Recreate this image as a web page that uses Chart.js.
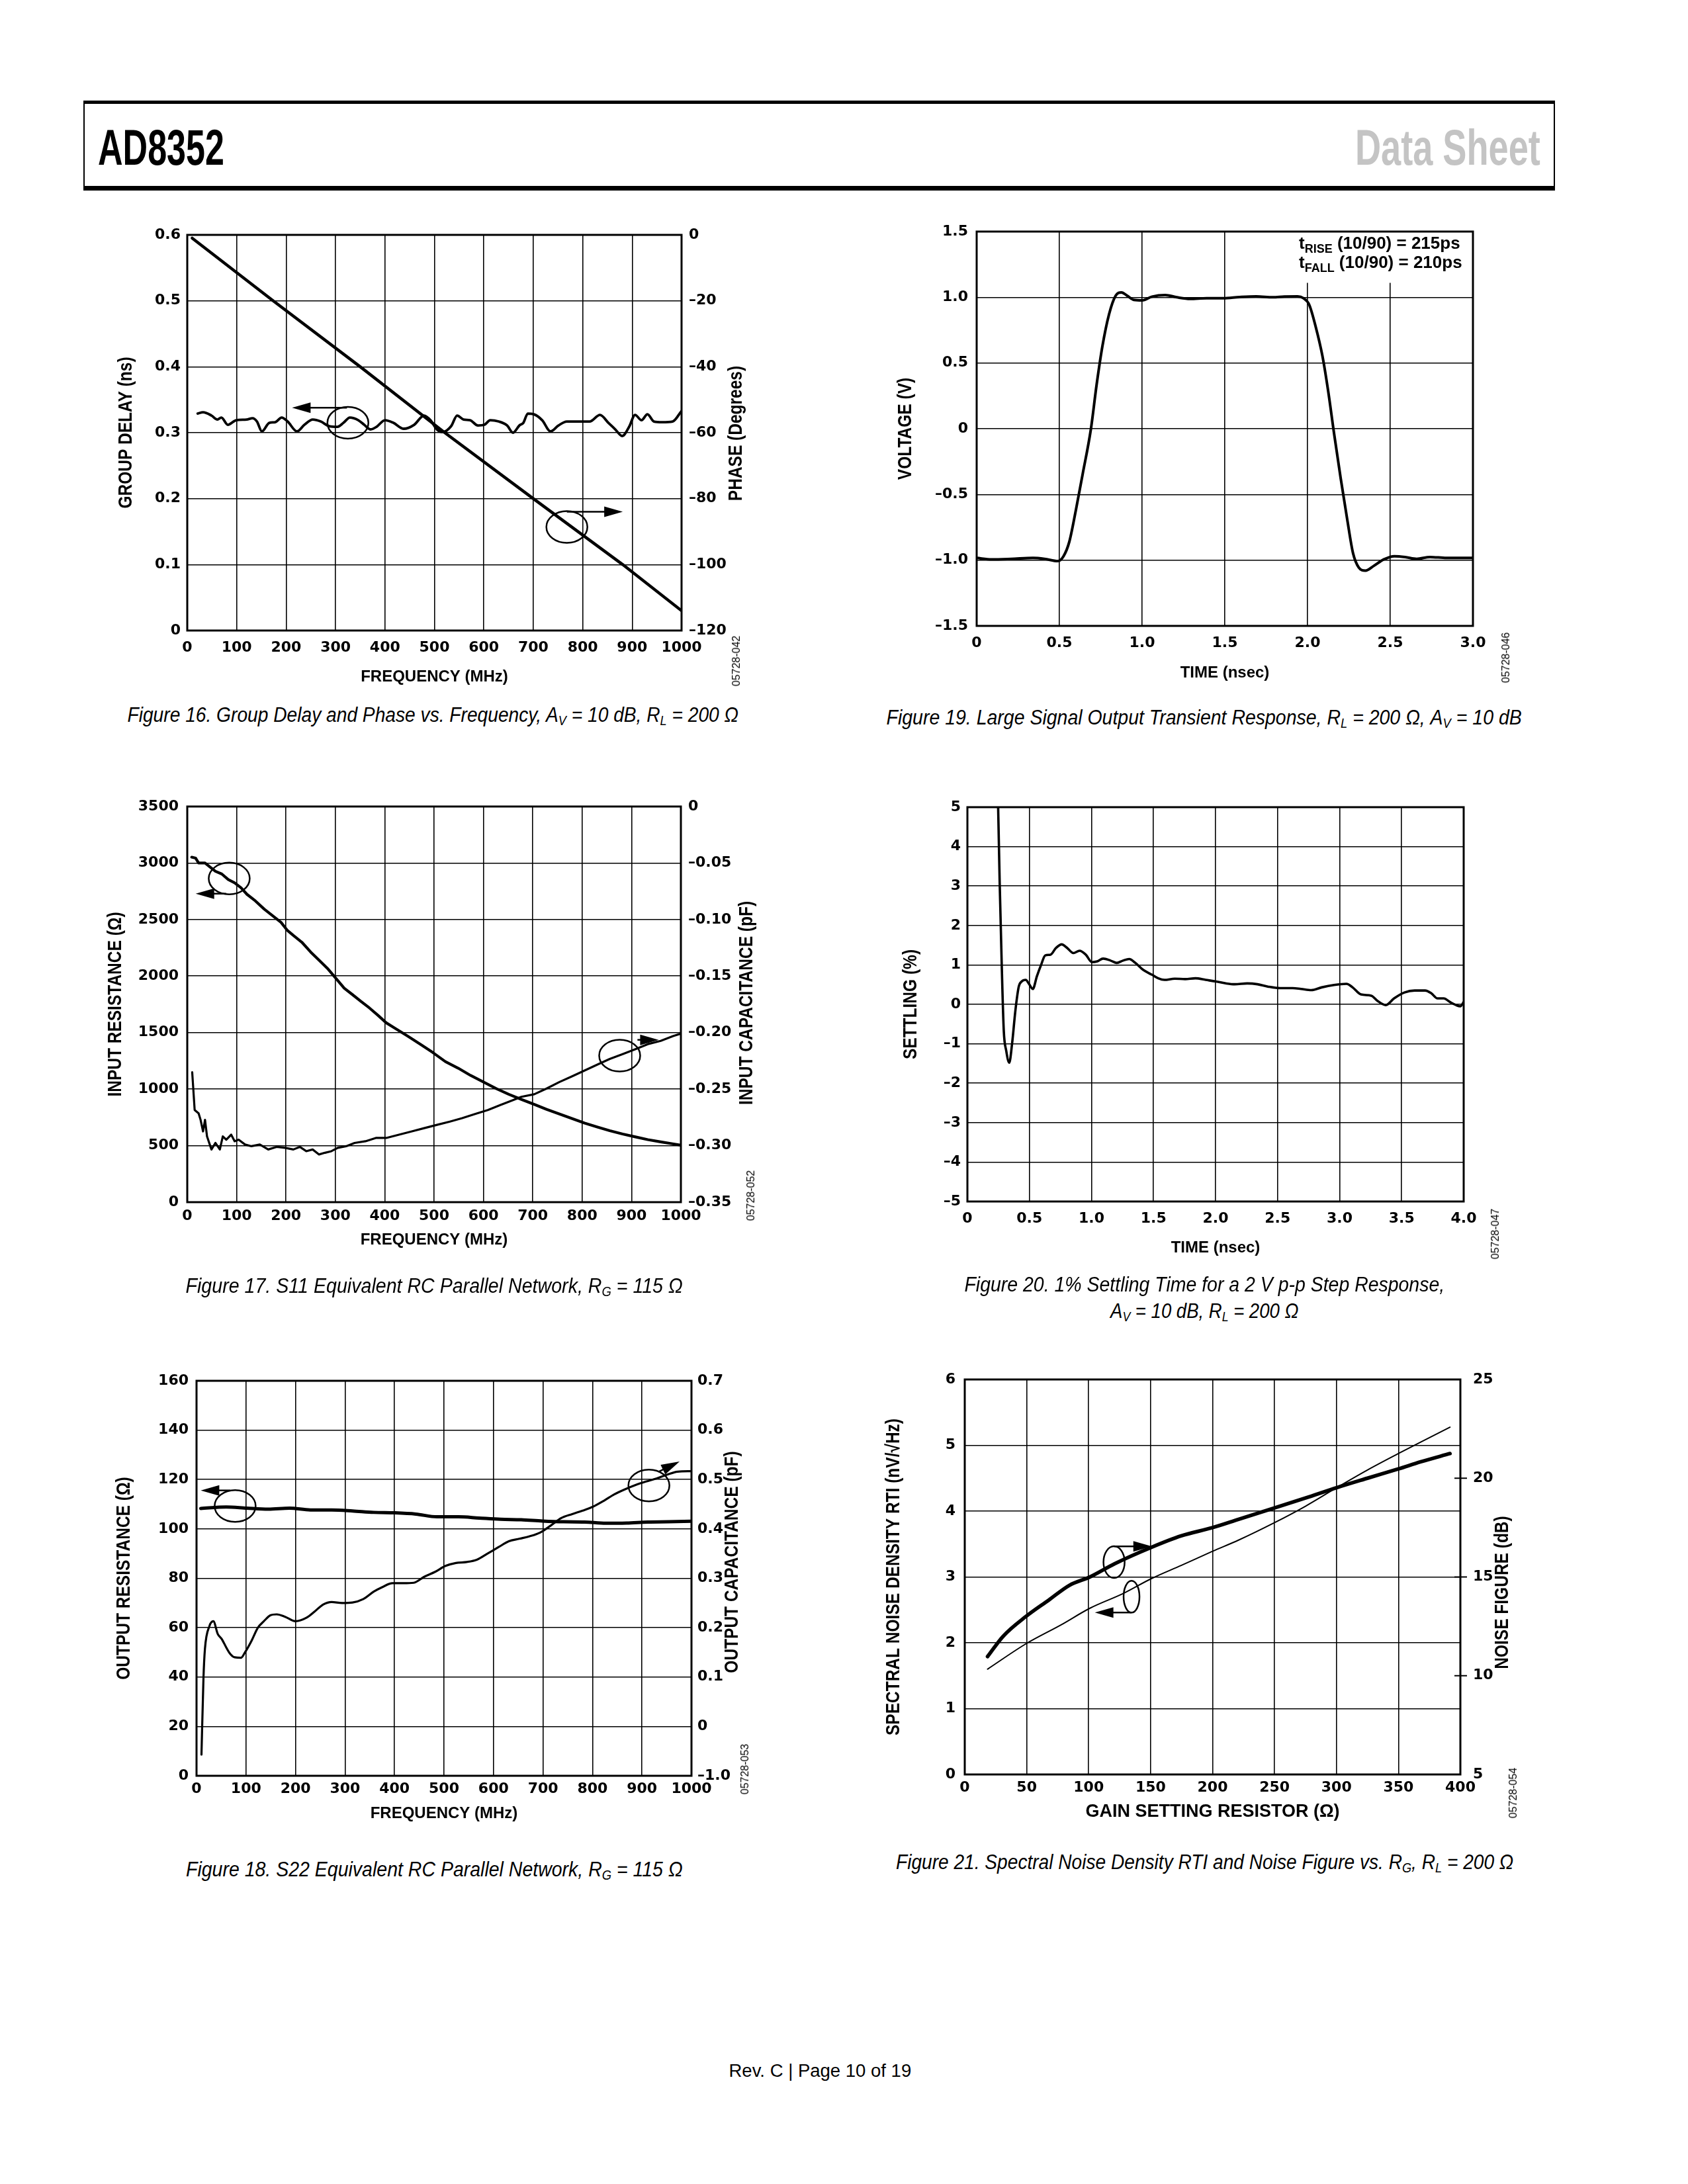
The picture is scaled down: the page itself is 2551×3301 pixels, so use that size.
<!DOCTYPE html>
<html>
<head>
<meta charset="utf-8">
<script src="https://cdn.jsdelivr.net/npm/chart.js@4.4.1/dist/chart.umd.min.js"></script>
<style>
  html, body { margin: 0; padding: 0; background: #fff; }
  #page { position: relative; width: 2551px; height: 3301px; overflow: hidden; background: #fff; }
  canvas { position: absolute; }
  .hdr { position: absolute; left: 126px; top: 152px; width: 2224px; height: 136px; box-sizing: border-box;
         border-left: 2px solid #000; border-right: 2px solid #000; border-top: 5px solid #000; border-bottom: 7px solid #000; }
  .fit { position: absolute; white-space: nowrap; line-height: 1; }
  .hd { font-family: "Liberation Sans", Arial, sans-serif; font-weight: bold; font-size: 76px; }
  .cap { font-family: "Liberation Sans", Arial, sans-serif; font-style: italic; font-size: 31px; color: #000; }
  .cap sub { font-size: 20px; vertical-align: -5px; line-height: 0; }
  .foot { font-family: "Liberation Sans", Arial, sans-serif; font-size: 27px; }
  .id { position: absolute; font-family: "Liberation Sans", Arial, sans-serif; font-size: 16px; white-space: nowrap;
        transform: translate(-50%, -50%) rotate(-90deg); }
</style>
</head>
<body>
<div id="page">
  <div class="hdr"></div>
  <div class="fit hd" data-x="148" data-y="223" data-w="191" data-align="left">AD8352</div>
  <div class="fit hd" data-x="2328" data-y="223" data-w="280" data-align="right" style="color:#c4c4c4">Data Sheet</div>

  <canvas id="c16"></canvas>
  <canvas id="c19"></canvas>
  <canvas id="c17"></canvas>
  <canvas id="c20"></canvas>
  <canvas id="c18"></canvas>
  <canvas id="c21"></canvas>

  <div class="fit cap" data-x="654" data-y="1080" data-w="924">Figure 16. Group Delay and Phase vs. Frequency, A<sub>V</sub> = 10 dB, R<sub>L</sub> = 200 Ω</div>
  <div class="fit cap" data-x="1819" data-y="1084" data-w="960">Figure 19. Large Signal Output Transient Response, R<sub>L</sub> = 200 Ω, A<sub>V</sub> = 10 dB</div>
  <div class="fit cap" data-x="656" data-y="1943" data-w="751">Figure 17. S11 Equivalent RC Parallel Network, R<sub>G</sub> = 115 Ω</div>
  <div class="fit cap" data-x="1820" data-y="1941" data-w="726">Figure 20. 1% Settling Time for a 2 V p-p Step Response,</div>
  <div class="fit cap" data-x="1820" data-y="1981" data-w="284">A<sub>V</sub> = 10 dB, R<sub>L</sub> = 200 Ω</div>
  <div class="fit cap" data-x="656" data-y="2825" data-w="751">Figure 18. S22 Equivalent RC Parallel Network, R<sub>G</sub> = 115 Ω</div>
  <div class="fit cap" data-x="1820" data-y="2814" data-w="933">Figure 21. Spectral Noise Density RTI and Noise Figure vs. R<sub>G</sub>, R<sub>L</sub> = 200 Ω</div>
  <div class="fit foot" data-x="1239" data-y="3130" data-w="276">Rev. C | Page 10 of 19</div>

  <div class="id" style="left:1113px;top:999px">05728-042</div>
  <div class="id" style="left:2276px;top:994px">05728-046</div>
  <div class="id" style="left:1135px;top:1807px">05728-052</div>
  <div class="id" style="left:2260px;top:1865px">05728-047</div>
  <div class="id" style="left:1126px;top:2674px">05728-053</div>
  <div class="id" style="left:2287px;top:2710px">05728-054</div>
</div>

<script>
// ---------- Figure 16: group delay / phase vs frequency ----------
const F16_FREQ = [
  21, 32, 49, 61, 69, 82, 99, 120, 132, 141,
  151, 166, 178, 191, 203, 222, 237, 254, 270, 287,
  304, 316, 329, 346, 358, 371, 383, 400, 417, 438,
  459, 479, 492, 505, 517, 534, 546, 559, 572, 588,
  601, 613, 630, 647, 659, 672, 680, 689, 701, 718,
  735, 751, 768, 785, 814, 835, 852, 866, 880, 894,
  906, 919, 931, 944, 961, 982, 1000,
];
const F16_DELAY = [
  0.329, 0.331, 0.326, 0.320, 0.323, 0.312, 0.319, 0.320, 0.322, 0.317,
  0.302, 0.315, 0.316, 0.323, 0.317, 0.302, 0.312, 0.320, 0.317, 0.310,
  0.309, 0.315, 0.323, 0.319, 0.312, 0.305, 0.309, 0.319, 0.315, 0.306,
  0.312, 0.326, 0.319, 0.305, 0.301, 0.310, 0.326, 0.320, 0.319, 0.311,
  0.312, 0.319, 0.317, 0.311, 0.300, 0.311, 0.315, 0.329, 0.328, 0.319,
  0.302, 0.311, 0.317, 0.317, 0.317, 0.327, 0.315, 0.305, 0.295, 0.309,
  0.327, 0.319, 0.328, 0.317, 0.316, 0.317, 0.333,
];
const F16_PHASE_FREQ = [10, 174, 350, 521, 700, 881, 1000];
const F16_PHASE = [-1, -20, -40, -60, -80, -100, -114];
const F16_X_TICKS = [0, 100, 200, 300, 400, 500, 600, 700, 800, 900, 1000];
const F16_X_LABELS = ["0", "100", "200", "300", "400", "500", "600", "700", "800", "900", "1000"];
const F16_Y_TICKS = [0, 0.1, 0.2, 0.3, 0.4, 0.5, 0.6];
const F16_Y_LABELS = ["0", "0.1", "0.2", "0.3", "0.4", "0.5", "0.6"];
const F16_Y2_TICKS = [-120, -100, -80, -60, -40, -20, 0];
const F16_Y2_LABELS = ["–120", "–100", "–80", "–60", "–40", "–20", "0"];

// ---------- Figure 19: large signal transient ----------
const F19_TIME = [
  0, 0.09, 0.21, 0.34, 0.41, 0.49, 0.525, 0.56, 0.6, 0.64,
  0.69, 0.725, 0.76, 0.8, 0.84, 0.875, 0.91, 0.95, 1.0, 1.06,
  1.14, 1.21, 1.29, 1.39, 1.49, 1.59, 1.69, 1.79, 1.86, 1.94,
  1.975, 2.01, 2.05, 2.09, 2.125, 2.16, 2.2, 2.24, 2.275, 2.31,
  2.35, 2.4, 2.46, 2.525, 2.59, 2.66, 2.74, 2.84, 3.0,
];
const F19_VOLT = [
  -0.983, -0.994, -0.99, -0.983, -0.99, -1.007, -0.97, -0.86, -0.617, -0.35,
  -0.007, 0.334, 0.627, 0.87, 1.012, 1.037, 1.012, 0.98, 0.976, 1.005,
  1.017, 1.0, 0.988, 0.993, 0.993, 1.002, 1.007, 1.0, 1.005, 1.007,
  0.993, 0.944, 0.773, 0.554, 0.285, -0.032, -0.373, -0.69, -0.946, -1.056,
  -1.08, -1.044, -0.995, -0.97, -0.976, -0.99, -0.976, -0.983, -0.983,
];
const F19_X_TICKS = [0, 0.5, 1, 1.5, 2, 2.5, 3];
const F19_X_LABELS = ["0", "0.5", "1.0", "1.5", "2.0", "2.5", "3.0"];
const F19_Y_TICKS = [-1.5, -1, -0.5, 0, 0.5, 1, 1.5];
const F19_Y_LABELS = ["–1.5", "–1.0", "–0.5", "0", "0.5", "1.0", "1.5"];
const F19_NOTE = [["t", "RISE", " (10/90) = 215ps"], ["t", "FALL", " (10/90) = 210ps"]];

// ---------- Figure 17: S11 equivalent RC ----------
const F17_R_FREQ = [
  9, 17, 23, 36, 46, 57, 70, 83, 96, 109,
  121, 138, 156, 173, 190, 203, 215, 232, 250, 267,
  284, 301, 318, 335, 352, 369, 386, 403, 421, 446,
  472, 497, 523, 549, 574, 600, 626, 651, 677, 703,
  728, 754, 779, 805, 831, 856, 882, 908, 933, 959,
  985, 1000,
];
const F17_RES = [
  3052, 3043, 3000, 3000, 2965, 2927, 2903, 2854, 2825, 2781,
  2723, 2665, 2592, 2534, 2475, 2403, 2359, 2300, 2213, 2140,
  2068, 1980, 1893, 1835, 1776, 1718, 1654, 1587, 1538, 1471,
  1398, 1325, 1243, 1185, 1121, 1063, 1005, 955, 909, 865,
  821, 780, 740, 699, 664, 632, 603, 577, 553, 533,
  515, 504,
];
const F17_C_FREQ = [
  10, 15, 23, 27, 32, 36, 40, 49, 57, 66,
  72, 79, 89, 96, 104, 117, 130, 147, 164, 181,
  198, 215, 228, 241, 254, 267, 279, 292, 305, 322,
  339, 361, 382, 403, 429, 455, 480, 506, 532, 557,
  583, 609, 634, 660, 677, 703, 728, 754, 779, 805,
  831, 856, 882, 908, 933, 959, 985, 1000,
];
const F17_CAP = [
  -0.235, -0.2685, -0.2714, -0.2772, -0.2874, -0.2772, -0.2918, -0.3034, -0.2976, -0.3034,
  -0.2918, -0.2947, -0.2903, -0.2961, -0.2947, -0.299, -0.3005, -0.299, -0.3034, -0.3011,
  -0.3019, -0.3034, -0.3011, -0.3049, -0.3034, -0.3078, -0.3063, -0.3049, -0.3019, -0.3005,
  -0.2976, -0.2961, -0.2932, -0.2932, -0.2903, -0.2874, -0.2845, -0.2816, -0.2787, -0.2757,
  -0.272, -0.2685, -0.2641, -0.2597, -0.2568, -0.2545, -0.2495, -0.2437, -0.2388, -0.2335,
  -0.2283, -0.2233, -0.219, -0.2146, -0.2102, -0.2073, -0.203, -0.2009,
];
const F17_Y_TICKS = [0, 500, 1000, 1500, 2000, 2500, 3000, 3500];
const F17_Y_LABELS = ["0", "500", "1000", "1500", "2000", "2500", "3000", "3500"];
const F17_Y2_TICKS = [-0.35, -0.3, -0.25, -0.2, -0.15, -0.1, -0.05, 0];
const F17_Y2_LABELS = ["–0.35", "–0.30", "–0.25", "–0.20", "–0.15", "–0.10", "–0.05", "0"];

// ---------- Figure 20: 1% settling ----------
const F20_TIME = [
  0.244, 0.26, 0.277, 0.293, 0.313, 0.337, 0.36, 0.387, 0.414, 0.437,
  0.47, 0.494, 0.527, 0.56, 0.594, 0.627, 0.67, 0.714, 0.76, 0.804,
  0.854, 0.904, 0.954, 1.004, 1.047, 1.094, 1.154, 1.204, 1.254, 1.304,
  1.354, 1.414, 1.488, 1.538, 1.588, 1.671, 1.755, 1.838, 1.921, 2.005,
  2.088, 2.155, 2.255, 2.338, 2.422, 2.522, 2.622, 2.689, 2.772, 2.855,
  2.955, 3.055, 3.105, 3.172, 3.255, 3.305, 3.372, 3.439, 3.522, 3.605,
  3.689, 3.739, 3.789, 3.839, 3.889, 3.939, 3.973, 4.0,
];
const F20_SETTLE = [
  5.6, 3.1, 0.96, -0.66, -1.18, -1.48, -1.0, -0.15, 0.45, 0.58,
  0.62, 0.53, 0.39, 0.71, 1.0, 1.24, 1.26, 1.43, 1.52, 1.43,
  1.30, 1.36, 1.26, 1.07, 1.09, 1.16, 1.11, 1.05, 1.11, 1.15,
  1.05, 0.88, 0.75, 0.66, 0.62, 0.65, 0.64, 0.66, 0.62, 0.58,
  0.53, 0.51, 0.53, 0.51, 0.45, 0.41, 0.41, 0.39, 0.36, 0.43,
  0.49, 0.52, 0.43, 0.25, 0.22, 0.09, -0.02, 0.15, 0.30, 0.35,
  0.35, 0.28, 0.15, 0.15, 0.06, -0.02, -0.05, 0.06,
];
const F20_X_TICKS = [0, 0.5, 1, 1.5, 2, 2.5, 3, 3.5, 4];
const F20_X_LABELS = ["0", "0.5", "1.0", "1.5", "2.0", "2.5", "3.0", "3.5", "4.0"];
const F20_Y_TICKS = [-5, -4, -3, -2, -1, 0, 1, 2, 3, 4, 5];
const F20_Y_LABELS = ["–5", "–4", "–3", "–2", "–1", "0", "1", "2", "3", "4", "5"];

// ---------- Figure 18: S22 equivalent RC ----------
const F18_R_FREQ = [8.5, 60, 102, 145, 188, 230, 273, 315, 358, 401, 443, 486, 529, 571, 614, 656, 699, 742, 784, 827, 869, 912, 955, 1000];
const F18_RES = [108.3, 108.9, 108.4, 108.0, 108.4, 107.7, 107.7, 107.3, 106.7, 106.5, 106.0, 104.9, 104.9, 104.4, 103.9, 103.7, 103.2, 102.9, 102.8, 102.3, 102.4, 102.8, 102.9, 103.1];
const F18_C_FREQ = [
  10, 14, 17, 26, 34, 43, 51, 60, 68, 77,
  90, 98, 111, 124, 136, 149, 162, 179, 200, 222,
  239, 256, 273, 294, 315, 337, 358, 375, 396, 418,
  439, 460, 482, 503, 524, 546, 567, 588, 610, 631,
  652, 673, 695, 716, 737, 759, 780, 801, 823, 844,
  865, 887, 908, 929, 951, 972, 1000,
];
const F18_CAP = [
  -0.057, 0.097, 0.157, 0.203, 0.213, 0.187, 0.177, 0.16, 0.147, 0.14,
  0.139, 0.15, 0.173, 0.2, 0.213, 0.225, 0.227, 0.222, 0.213, 0.22,
  0.233, 0.247, 0.252, 0.25, 0.251, 0.258, 0.273, 0.282, 0.29, 0.29,
  0.291, 0.303, 0.313, 0.325, 0.331, 0.333, 0.338, 0.35, 0.363, 0.375,
  0.38, 0.385, 0.393, 0.407, 0.422, 0.43, 0.437, 0.445, 0.457, 0.47,
  0.48, 0.489, 0.496, 0.502, 0.51, 0.516, 0.517,
];
const F18_Y_TICKS = [0, 20, 40, 60, 80, 100, 120, 140, 160];
const F18_Y_LABELS = ["0", "20", "40", "60", "80", "100", "120", "140", "160"];
const F18_Y2_TICKS = [-0.1, 0, 0.1, 0.2, 0.3, 0.4, 0.5, 0.6, 0.7];
const F18_Y2_LABELS = ["–1.0", "0", "0.1", "0.2", "0.3", "0.4", "0.5", "0.6", "0.7"];

// ---------- Figure 21: noise density / noise figure vs RG ----------
const F21_NF_RG = [18.4, 31, 49.4, 67.8, 84.5, 101, 121, 150.6, 174.6, 200, 221, 250, 275, 300.5, 325, 350, 368, 391.6];
const F21_NF = [10.97, 12.0, 13.0, 13.83, 14.58, 15.0, 15.67, 16.5, 17.08, 17.5, 17.92, 18.5, 19.0, 19.53, 20.0, 20.47, 20.83, 21.25];
const F21_SND_RG = [18.4, 49.4, 78, 101, 128, 150.6, 174.6, 200, 221, 250, 275, 300.5, 325, 350, 368, 391.6];
const F21_SND = [1.6, 1.985, 2.275, 2.525, 2.75, 2.975, 3.175, 3.39, 3.56, 3.825, 4.075, 4.36, 4.625, 4.875, 5.05, 5.275];
const F21_X_TICKS = [0, 50, 100, 150, 200, 250, 300, 350, 400];
const F21_X_LABELS = ["0", "50", "100", "150", "200", "250", "300", "350", "400"];
const F21_Y_TICKS = [0, 1, 2, 3, 4, 5, 6];
const F21_Y_LABELS = ["0", "1", "2", "3", "4", "5", "6"];
const F21_Y2_TICKS = [5, 10, 15, 20, 25];
const F21_Y2_LABELS = ["5", "10", "15", "20", "25"];

// ========== layout / drawing ==========
// tick numbers on the sheet are wide; rotated axis titles are squeezed along their length
const DIGITS = "'DejaVu Sans','Liberation Sans',Arial,sans-serif";
const SANS = "'Liberation Sans',Arial,sans-serif";
const TICK_FONT = { family: DIGITS, size: 22, weight: "bold" };
const VTITLE_SIZE = 29;
const VTITLE_SQUEEZE = 0.845;
const AXW = 160; // side axis box width
const TOP = 40; // room above the plot
const XH = 110; // bottom axis box height

Chart.defaults.color = "#000";

function pts(xs, ys) {
  return xs.map((x, i) => ({ x, y: ys[i] }));
}

function axis(values, labels, pad) {
  return {
    type: "linear",
    min: values[0],
    max: values[values.length - 1],
    afterBuildTicks: (s) => {
      s.ticks = values.map((v) => ({ value: v }));
    },
    border: { display: false },
    grid: { color: "#000", lineWidth: 1.6, drawTicks: false },
    ticks: {
      font: TICK_FONT,
      color: "#000",
      padding: pad,
      autoSkip: false,
      maxRotation: 0,
      callback: (v, i) => labels[i],
    },
  };
}

function arrow(ctx, x1, y1, x2, y2) {
  const a = Math.atan2(y2 - y1, x2 - x1);
  const L = 28, W = 8;
  const c = Math.cos(a), s = Math.sin(a);
  ctx.beginPath();
  ctx.moveTo(x1, y1);
  ctx.lineTo(x2 - L * 0.7 * c, y2 - L * 0.7 * s);
  ctx.stroke();
  ctx.beginPath();
  ctx.moveTo(x2, y2);
  ctx.lineTo(x2 - L * c + W * s, y2 - L * s - W * c);
  ctx.lineTo(x2 - L * c - W * s, y2 - L * s + W * c);
  ctx.closePath();
  ctx.fill();
}

function vtitle(ctx, text, x, y) {
  ctx.save();
  ctx.translate(x, y);
  ctx.rotate(-Math.PI / 2);
  ctx.scale(VTITLE_SQUEEZE, 1);
  ctx.fillStyle = "#000";
  ctx.font = `bold ${VTITLE_SIZE}px ${SANS}`;
  ctx.textAlign = "center";
  ctx.textBaseline = "middle";
  ctx.fillText(text, 0, 0);
  ctx.restore();
}

// per-chart decorations: frame, axis titles, callout circles/arrows, text note
function decoFor(g, cfg) {
  return {
    id: "deco",
    beforeDatasetsDraw(chart) {
      const n = cfg.note;
      if (!n) return;
      const { ctx } = chart;
      const xs = chart.scales.x, ys = chart.scales.y;
      const x0 = xs.getPixelForValue(n.box[0]), x1 = xs.getPixelForValue(n.box[2]);
      const y0 = ys.getPixelForValue(n.box[3]), y1 = ys.getPixelForValue(n.box[1]);
      ctx.save();
      ctx.fillStyle = "#fff";
      ctx.fillRect(x0, y0, x1 - x0, y1 - y0);
      ctx.fillStyle = "#000";
      ctx.textBaseline = "middle";
      n.lines.forEach((parts, i) => {
        let x = xs.getPixelForValue(n.x);
        const y = ys.getPixelForValue(n.ys[i]);
        parts.forEach((p, j) => {
          const sub = j === 1;
          ctx.font = `bold ${sub ? 18 : 26}px ${SANS}`;
          ctx.fillText(p, x, sub ? y + 8 : y);
          x += ctx.measureText(p).width;
        });
      });
      ctx.restore();
    },
    afterDatasetsDraw(chart) {
      const { ctx } = chart;
      const xs = chart.scales.x, ys = chart.scales.y;
      ctx.save();
      ctx.strokeStyle = "#000";
      ctx.fillStyle = "#000";
      ctx.lineWidth = 2.5;
      (cfg.ellipses || []).forEach((e) => {
        ctx.beginPath();
        ctx.ellipse(xs.getPixelForValue(e.x), ys.getPixelForValue(e.y), e.rx, e.ry, 0, 0, Math.PI * 2);
        ctx.stroke();
      });
      (cfg.arrows || []).forEach((a) => {
        arrow(ctx, xs.getPixelForValue(a.x1), ys.getPixelForValue(a.y1), xs.getPixelForValue(a.x2), ys.getPixelForValue(a.y2));
      });
      ctx.restore();
    },
    afterDraw(chart) {
      const { ctx, chartArea: ca } = chart;
      const ox = g.l - AXW, oy = g.t - TOP;
      ctx.save();
      ctx.strokeStyle = "#000";
      ctx.lineWidth = 3;
      ctx.strokeRect(ca.left, ca.top, ca.right - ca.left, ca.bottom - ca.top);
      if (cfg.sideTicks && chart.scales.y2) {
        ctx.lineWidth = 2;
        cfg.sideTicks.forEach((v) => {
          const y = chart.scales.y2.getPixelForValue(v);
          ctx.beginPath();
          ctx.moveTo(ca.right - 9, y);
          ctx.lineTo(ca.right + 10, y);
          ctx.stroke();
        });
      }
      ctx.restore();
      vtitle(ctx, cfg.yTitle, g.yTitleX - ox, (ca.top + ca.bottom) / 2);
      if (cfg.y2Title) vtitle(ctx, cfg.y2Title, g.y2TitleX - ox, g.y2TitleY - oy);
    },
  };
}

function makeChart(id, g, spec) {
  const cv = document.getElementById(id);
  const w = g.r - g.l + 2 * AXW;
  const h = g.b - g.t + TOP + XH;
  cv.width = w;
  cv.height = h;
  Object.assign(cv.style, {
    left: g.l - AXW + "px",
    top: g.t - TOP + "px",
    width: w + "px",
    height: h + "px",
  });

  const xtSize = g.xTitleSize || 24;
  const scales = {
    x: {
      ...axis(spec.x.values, spec.x.labels, g.xLabelY - g.b - TICK_FONT.size * 0.6),
      position: "bottom",
      afterFit: (s) => {
        s.height = XH;
      },
      title: {
        display: true,
        text: spec.x.title,
        color: "#000",
        font: { family: SANS, size: xtSize, weight: "bold" },
        padding: { top: 0, bottom: XH - (g.xTitleY - g.b) - xtSize * 0.6 },
      },
    },
    y: {
      ...axis(spec.y.values, spec.y.labels, g.yGap),
      position: "left",
      afterFit: (s) => {
        s.width = AXW;
      },
    },
  };
  if (spec.y2) {
    scales.y2 = {
      ...axis(spec.y2.values, spec.y2.labels, g.y2Gap),
      position: "right",
      grid: { display: false, drawTicks: false },
      afterFit: (s) => {
        s.width = AXW;
      },
    };
  }

  return new Chart(cv, {
    type: "line",
    data: {
      datasets: spec.datasets.map((d) => ({
        data: d.data,
        yAxisID: d.axis || "y",
        borderColor: "#000",
        borderWidth: d.width,
        pointRadius: 0,
        fill: false,
        tension: d.smooth ? 0.4 : 0,
        cubicInterpolationMode: d.smooth ? "monotone" : "default",
        borderCapStyle: "round",
        borderJoinStyle: "round",
      })),
    },
    options: {
      responsive: false,
      devicePixelRatio: 1,
      animation: false,
      events: [],
      layout: { padding: { top: TOP, left: 0, bottom: 0, right: spec.y2 ? 0 : AXW } },
      plugins: { legend: { display: false }, tooltip: { enabled: false } },
      scales,
    },
    plugins: [decoFor(g, Object.assign({ yTitle: spec.y.title }, spec.deco))],
  });
}

// ---------- the six panels ----------
makeChart("c16",
  { l: 283, t: 355, r: 1030, b: 953, yTitleX: 191, xTitleY: 1023, xLabelY: 979, yGap: 10, y2Gap: 11, y2TitleX: 1113, y2TitleY: 655 },
  {
    x: { values: F16_X_TICKS, labels: F16_X_LABELS, title: "FREQUENCY (MHz)" },
    y: { values: F16_Y_TICKS, labels: F16_Y_LABELS, title: "GROUP DELAY (ns)" },
    y2: { values: F16_Y2_TICKS, labels: F16_Y2_LABELS },
    datasets: [
      { data: pts(F16_FREQ, F16_DELAY), width: 3.8, smooth: true },
      { data: pts(F16_PHASE_FREQ, F16_PHASE), axis: "y2", width: 4.5 },
    ],
    deco: {
      y2Title: "PHASE (Degrees)",
      ellipses: [{ x: 325, y: 0.315, rx: 31, ry: 24 }, { x: 768, y: 0.157, rx: 31, ry: 24 }],
      arrows: [{ x1: 323, y1: 0.338, x2: 212, y2: 0.338 }, { x1: 768, y1: 0.18, x2: 881, y2: 0.18 }],
    },
  });

makeChart("c19",
  { l: 1476, t: 350, r: 2226, b: 946, yTitleX: 1369, xTitleY: 1017, xLabelY: 972, yGap: 13 },
  {
    x: { values: F19_X_TICKS, labels: F19_X_LABELS, title: "TIME (nsec)" },
    y: { values: F19_Y_TICKS, labels: F19_Y_LABELS, title: "VOLTAGE (V)" },
    datasets: [{ data: pts(F19_TIME, F19_VOLT), width: 4, smooth: true }],
    deco: {
      note: { box: [1.94, 1.11, 3.0, 1.5], x: 1.948, ys: [1.404, 1.258], lines: F19_NOTE },
    },
  });

makeChart("c17",
  { l: 283, t: 1219, r: 1029, b: 1817, yTitleX: 175, xTitleY: 1874, xLabelY: 1838, yGap: 13, y2Gap: 11, y2TitleX: 1129, y2TitleY: 1516 },
  {
    x: { values: F16_X_TICKS, labels: F16_X_LABELS, title: "FREQUENCY (MHz)" },
    y: { values: F17_Y_TICKS, labels: F17_Y_LABELS, title: "INPUT RESISTANCE (Ω)" },
    y2: { values: F17_Y2_TICKS, labels: F17_Y2_LABELS },
    datasets: [
      { data: pts(F17_R_FREQ, F17_RES), width: 4.2 },
      { data: pts(F17_C_FREQ, F17_CAP), axis: "y2", width: 3.2 },
    ],
    deco: {
      y2Title: "INPUT CAPACITANCE (pF)",
      ellipses: [{ x: 85, y: 2863, rx: 31, ry: 24 }, { x: 876, y: 1296, rx: 31, ry: 24 }],
      arrows: [{ x1: 79, y1: 2729, x2: 17, y2: 2729 }, { x1: 912, y1: 1436, x2: 955, y2: 1436 }],
    },
  });

makeChart("c20",
  { l: 1462, t: 1220, r: 2212, b: 1816, yTitleX: 1377, xTitleY: 1886, xLabelY: 1842, yGap: 10 },
  {
    x: { values: F20_X_TICKS, labels: F20_X_LABELS, title: "TIME (nsec)" },
    y: { values: F20_Y_TICKS, labels: F20_Y_LABELS, title: "SETTLING (%)" },
    datasets: [{ data: pts(F20_TIME, F20_SETTLE), width: 3.6, smooth: true }],
  });

makeChart("c18",
  { l: 297, t: 2087, r: 1045, b: 2684, yTitleX: 188, xTitleY: 2741, xLabelY: 2704, yGap: 12, y2Gap: 9, y2TitleX: 1107, y2TitleY: 2361 },
  {
    x: { values: F16_X_TICKS, labels: F16_X_LABELS, title: "FREQUENCY (MHz)" },
    y: { values: F18_Y_TICKS, labels: F18_Y_LABELS, title: "OUTPUT RESISTANCE (Ω)" },
    y2: { values: F18_Y2_TICKS, labels: F18_Y2_LABELS },
    datasets: [
      { data: pts(F18_R_FREQ, F18_RES), width: 5, smooth: true },
      { data: pts(F18_C_FREQ, F18_CAP), axis: "y2", width: 3.2, smooth: true },
    ],
    deco: {
      y2Title: "OUTPUT CAPACITANCE (pF)",
      ellipses: [{ x: 78, y: 109.3, rx: 31, ry: 24 }, { x: 914, y: 117.6, rx: 31, ry: 24 }],
      arrows: [{ x1: 68, y1: 115.6, x2: 8.5, y2: 115.6 }, { x1: 933, y1: 123.1, x2: 976, y2: 127.3 }],
    },
  });

makeChart("c21",
  { l: 1458, t: 2085, r: 2207, b: 2682, yTitleX: 1351, xTitleY: 2739, xLabelY: 2702, xTitleSize: 27, yGap: 14, y2Gap: 19, y2TitleX: 2271, y2TitleY: 2407 },
  {
    x: { values: F21_X_TICKS, labels: F21_X_LABELS, title: "GAIN SETTING RESISTOR (Ω)" },
    y: { values: F21_Y_TICKS, labels: F21_Y_LABELS, title: "SPECTRAL NOISE DENSITY RTI (nV/√Hz)" },
    y2: { values: F21_Y2_TICKS, labels: F21_Y2_LABELS },
    datasets: [
      { data: pts(F21_NF_RG, F21_NF), axis: "y2", width: 5.5, smooth: true },
      { data: pts(F21_SND_RG, F21_SND), width: 2, smooth: true },
    ],
    deco: {
      y2Title: "NOISE FIGURE (dB)",
      sideTicks: [10, 15, 20],
      ellipses: [{ x: 120.5, y: 3.225, rx: 16, ry: 24 }, { x: 134.6, y: 2.7, rx: 12, ry: 24 }],
      arrows: [{ x1: 120.5, y1: 3.465, x2: 151, y2: 3.465 }, { x1: 134.6, y1: 2.46, x2: 105, y2: 2.46 }],
    },
  });

// squeeze page texts to the widths they have on the sheet
document.querySelectorAll(".fit").forEach((el) => {
  const x = Number(el.dataset.x), y = Number(el.dataset.y);
  const w = el.offsetWidth, h = el.offsetHeight;
  const k = Number(el.dataset.w) / w;
  const al = el.dataset.align || "center";
  el.style.top = y - h / 2 + "px";
  if (al === "left") {
    el.style.left = x + "px";
    el.style.transformOrigin = "left center";
  } else if (al === "right") {
    el.style.left = x - w + "px";
    el.style.transformOrigin = "right center";
  } else {
    el.style.left = x - w / 2 + "px";
    el.style.transformOrigin = "center center";
  }
  el.style.transform = `scaleX(${k})`;
});
</script>
</body>
</html>
